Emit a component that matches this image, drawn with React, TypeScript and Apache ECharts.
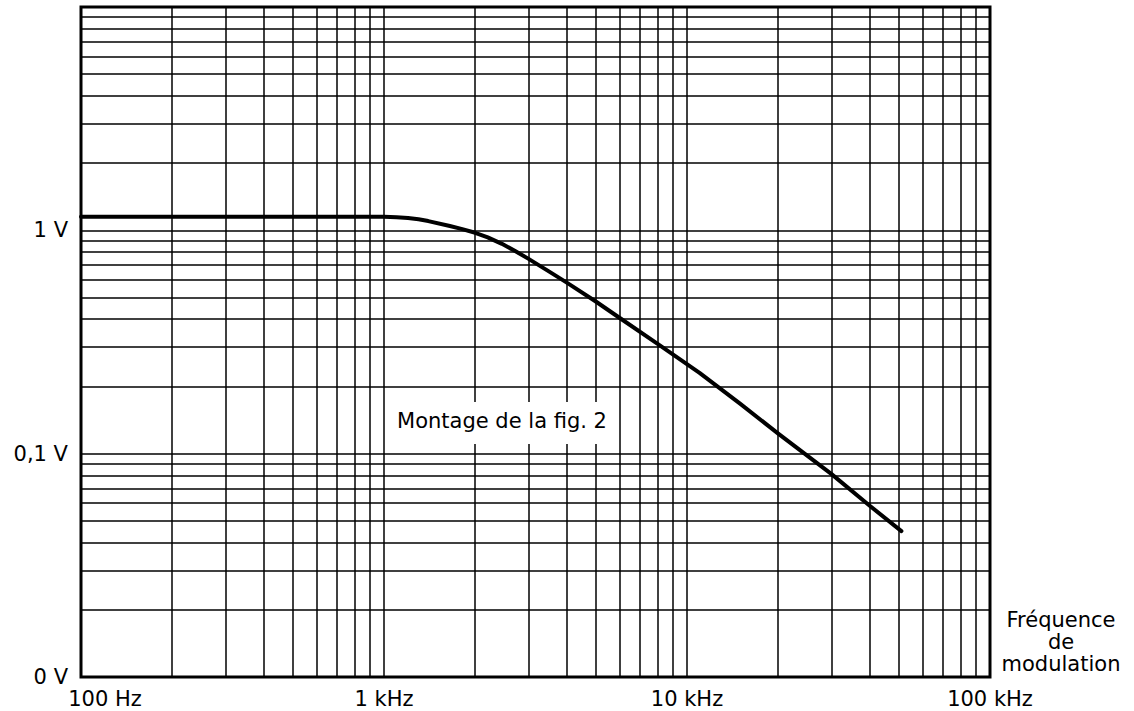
import React, { useEffect, useRef } from "react";
import * as echarts from "echarts";

const freqs = [100, 1000, 1100, 1200, 1300, 1400, 1650, 1800, 2000, 2200, 2450, 2700, 3000, 3500, 4000, 5000, 6000, 8000, 11000, 15000, 20000, 30000, 40000, 51000];
const volts = [1.15, 1.15, 1.145, 1.135, 1.12, 1.1, 1.045, 1.015, 0.975, 0.93, 0.87, 0.81, 0.745, 0.655, 0.585, 0.48, 0.405, 0.31, 0.23, 0.167, 0.123, 0.081, 0.0586, 0.045];

// Grid lines of the log-log paper
const xGridValues = [
  200, 300, 400, 500, 600, 700, 800, 900, 1000,
  2000, 3000, 4000, 5000, 6000, 7000, 8000, 9000, 10000,
  20000, 30000, 40000, 50000, 60000, 70000, 80000, 90000,
];
const yGridValues = [
  0.02, 0.03, 0.04, 0.05, 0.06, 0.07, 0.08, 0.09, 0.1,
  0.2, 0.3, 0.4, 0.5, 0.6, 0.7, 0.8, 0.9, 1,
  2, 3, 4, 5, 6, 7, 8, 9,
];

// Tick labels
const xTickValues = [100, 1000, 10000, 100000];
const xTickLabels = ["100 Hz", "1 kHz", "10 kHz", "100 kHz"];
const yTickValues = [0.01, 0.1, 1];
const yTickLabels = ["0 V", "0,1 V", "1 V"];

const curveName = "Montage de la fig. 2";
const axisName = "Fréquence\nde\nmodulation";

const FONT = "DejaVu Sans";

function findLabel(v: number, values: number[], labels: string[]): string {
  for (let i = 0; i < values.length; i++) {
    if (Math.abs(Math.log10(v) - Math.log10(values[i])) < 1e-6) return labels[i];
  }
  return "";
}

export default function App() {
  const ref = useRef<HTMLDivElement>(null);

  useEffect(() => {
    if (!ref.current) return;
    const chart = echarts.init(ref.current, null, { renderer: "svg" });
    const gridLine = { color: "#000", width: 1.5, type: "solid" as const };

    chart.setOption({
      animation: false,
      backgroundColor: "#fff",
      grid: {
        left: 81,
        top: 7,
        width: 909,
        height: 670,
        show: true,
        borderColor: "#000",
        borderWidth: 3,
        backgroundColor: "transparent",
        z: 4,
      },
      xAxis: {
        type: "log",
        logBase: 10,
        min: 100,
        max: 100000,
        axisLine: { show: false },
        axisTick: { show: false },
        splitLine: { show: false },
        axisLabel: {
          color: "#000",
          fontFamily: FONT,
          fontSize: 21,
          margin: 11,
          formatter: (v: number) => {
            const t = findLabel(v, xTickValues, xTickLabels);
            if (!t) return "";
            if (t === xTickLabels[0]) return "{first|" + t + "}";
            return t;
          },
          rich: {
            first: { fontFamily: FONT, fontSize: 21, color: "#000", padding: [0, 0, 0, 48] },
          },
        },
      },
      yAxis: {
        type: "log",
        logBase: 10,
        min: 0.01,
        max: 10,
        axisLine: { show: false },
        axisTick: { show: false },
        splitLine: { show: false },
        axisLabel: {
          color: "#000",
          fontFamily: FONT,
          fontSize: 21,
          margin: 13,
          formatter: (v: number) => findLabel(v, yTickValues, yTickLabels),
        },
      },
      series: [
        {
          type: "line",
          name: "grid",
          z: 1,
          silent: true,
          showSymbol: false,
          data: [],
          markLine: {
            silent: true,
            symbol: ["none", "none"],
            label: { show: false },
            lineStyle: gridLine,
            emphasis: { disabled: true },
            data: [
              ...xGridValues.map((v) => ({ xAxis: v })),
              ...yGridValues.map((v) => ({ yAxis: v })),
            ],
          },
        },
        {
          type: "line",
          name: curveName,
          z: 5,
          showSymbol: false,
          smooth: false,
          lineStyle: { color: "#000", width: 4, cap: "round", join: "round" },
          data: freqs.map((f, i) => [f, volts[i]]),
        },
      ],
      graphic: [
        {
          type: "rect",
          shape: { x: 390, y: 402, width: 222, height: 42 },
          style: { fill: "#fff" },
          z: 10,
        },
        {
          type: "text",
          x: 502,
          y: 421,
          z: 11,
          style: {
            text: curveName,
            fontFamily: FONT,
            fontSize: 21,
            fill: "#000",
            align: "center",
            verticalAlign: "middle",
          },
        },
        {
          type: "text",
          x: 1061,
          y: 642,
          z: 11,
          style: {
            text: axisName,
            fontFamily: FONT,
            fontSize: 21,
            lineHeight: 22,
            fill: "#000",
            align: "center",
            verticalAlign: "middle",
          },
        },
      ],
    });

    return () => chart.dispose();
  }, []);

  return (
    <div
      ref={ref}
      style={{ position: "fixed", left: 0, top: 0, width: 1134, height: 711, background: "#fff" }}
    />
  );
}
